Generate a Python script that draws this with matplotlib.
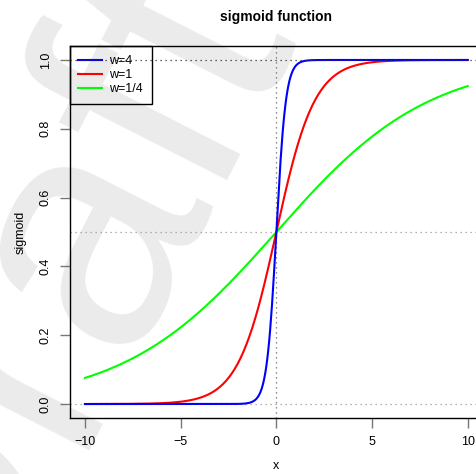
import numpy as np
import matplotlib
matplotlib.use('Agg')
import matplotlib.pyplot as plt

matplotlib.rc('font', family='Liberation Sans', size=9)

# curve definitions: weight and colour for each sigmoid
weights = [4, 1, 0.25]
labels = ['w=4', 'w=1', 'w=1/4']
colors = ['#0000ff', '#ff0000', '#00ff00']

x_range = (-10, 10)
x_ticks = [-10, -5, 0, 5, 10]
y_ticks = [0.0, 0.2, 0.4, 0.6, 0.8, 1.0]
ref_h = [0.0, 0.5, 1.0]
ref_v = [0.0]

fig = plt.figure(figsize=(4.77, 4.74), dpi=100)

# light watermark behind everything
fig.text(0.09, 0.37, 'Draft', fontsize=240, color='#ebebeb', rotation=63,
         ha='center', va='center', zorder=0)

ax = fig.add_axes([0.146, 0.1186, 0.8666, 0.7839])
ax.set_zorder(1)
ax.patch.set_alpha(0)

x = np.linspace(x_range[0], x_range[1], 400)
for i in reversed(range(len(weights))):
    ax.plot(x, 1 / (1 + np.exp(-weights[i] * x)), color=colors[i], lw=1.5,
            label=labels[i], zorder=3 + len(weights) - i)

ax.axhline(ref_h[0], color='#999999', ls=(0, (1, 3)), lw=0.9, zorder=2)
ax.axhline(ref_h[1], color='#999999', ls=(0, (1, 3)), lw=0.9, zorder=2)
ax.axhline(ref_h[2], color='#333333', ls=(0, (1, 3)), lw=0.9, zorder=7)
ax.axvline(ref_v[0], color='#666666', ls=(0, (1, 3)), lw=0.9, zorder=2)

ax.set_xlim(-10.8, 10.8)
ax.set_ylim(-0.04, 1.04)
ax.set_xticks(x_ticks)
ax.set_xticklabels(['\u221210', '\u22125', '0', '5', '10'])
ax.set_yticks(y_ticks)
ax.set_yticklabels(['0.0', '0.2', '0.4', '0.6', '0.8', '1.0'], rotation=90, va='center')
ax.tick_params(length=7, width=1, color='#777777', pad=6)
for s in ax.spines.values():
    s.set_linewidth(1)
    s.set_color('black')

ax.set_title('sigmoid function', fontweight='bold', fontsize=10, pad=18)
ax.set_xlabel('x', labelpad=9)
ax.set_ylabel('sigmoid', labelpad=9)

h, l = ax.get_legend_handles_labels()
leg = ax.legend(h[::-1], l[::-1], loc='upper left', bbox_to_anchor=(0, 1),
                borderaxespad=0, fancybox=False, facecolor='none', edgecolor='black',
                handlelength=1.85, handletextpad=0.6, borderpad=0.7, labelspacing=0.18)
leg.get_frame().set_linewidth(1)
leg.get_frame().set_alpha(None)

fig.savefig('out.png', dpi=100)
